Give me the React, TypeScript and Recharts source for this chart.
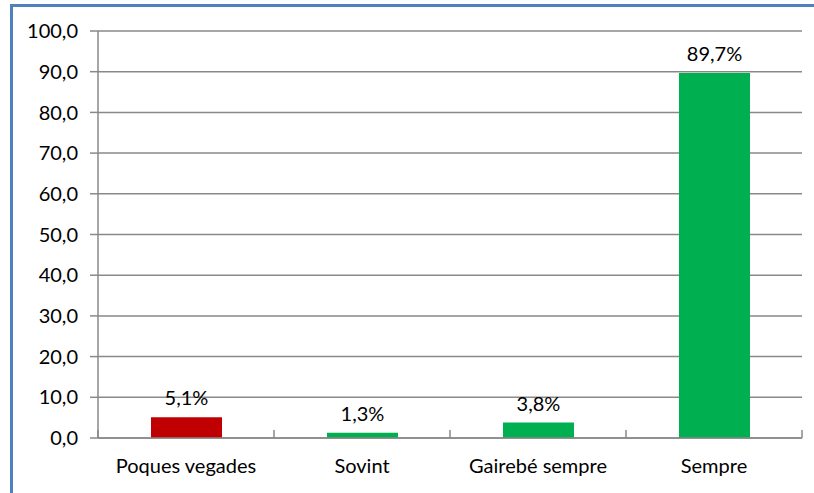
import { BarChart, Bar, XAxis, YAxis, CartesianGrid, LabelList, Cell } from "recharts";

const categories = ["Poques vegades", "Sovint", "Gairebé sempre", "Sempre"];
const values = [5.1, 1.3, 3.8, 89.7];
const barColors = ["#C00000", "#00B050", "#00B050", "#00B050"];
const yTicks = [0, 10, 20, 30, 40, 50, 60, 70, 80, 90, 100];

const data = categories.map((name, i) => ({ name, value: values[i] }));

const FONT = "Lato, 'Open Sans', sans-serif";
const AXIS = "#898989";
const PLOT_LEFT = 98;
const PLOT_RIGHT = 802;
const BAND = (PLOT_RIGHT - PLOT_LEFT) / categories.length;

const CategoryTick = (props: any) => {
    const { x, y, payload, index } = props;
    const left = x - BAND / 2;
    return (
        <g>
            <line x1={left} y1={y - 8} x2={left} y2={y} stroke={AXIS} strokeWidth={1.5} />
            {index === categories.length - 1 && (
                <line x1={x + BAND / 2} y1={y - 8} x2={x + BAND / 2} y2={y} stroke={AXIS} strokeWidth={1.5} />
            )}
            <text x={x} y={y + 35} textAnchor="middle" fontSize={20} fill="#000" fontFamily={FONT}>
                {payload.value}
            </text>
        </g>
    );
};

export default function App() {
    return (
        <div style={{ position: "absolute", left: 0, top: 0, width: 814, height: 493, background: "#fff", overflow: "hidden" }}>
            <div
                style={{
                    position: "absolute",
                    left: 10,
                    top: 4,
                    width: 820,
                    height: 500,
                    borderLeft: "3px solid #4F81BD",
                    borderTop: "3px solid #4F81BD",
                }}
            />
            <div style={{ position: "absolute", left: 0, top: 0 }}>
                <BarChart
                    width={814}
                    height={493}
                    data={data}
                    margin={{ top: 31, right: 12, bottom: 25, left: 0 }}
                    barCategoryGap="20%"
                >
                    <CartesianGrid vertical={false} stroke={AXIS} strokeWidth={1.5} />
                    <YAxis
                        width={98}
                        domain={[0, 100]}
                        ticks={yTicks}
                        interval={0}
                        tickFormatter={(v: number) => v.toFixed(1).replace(".", ",")}
                        axisLine={{ stroke: AXIS, strokeWidth: 1.5 }}
                        tickLine={{ stroke: AXIS, strokeWidth: 1.5 }}
                        tickSize={8}
                        tickMargin={12}
                        tick={{ fontSize: 20, fill: "#000", fontFamily: FONT }}
                    />
                    <XAxis
                        dataKey="name"
                        height={30}
                        interval={0}
                        axisLine={{ stroke: AXIS, strokeWidth: 1.5 }}
                        tickLine={false}
                        tick={<CategoryTick />}
                        tickSize={0}
                        tickMargin={0}
                    />
                    <Bar dataKey="value" barSize={71} isAnimationActive={false}>
                        {data.map((d, i) => (
                            <Cell key={d.name} fill={barColors[i]} />
                        ))}
                        <LabelList
                            dataKey="value"
                            position="top"
                            offset={12}
                            formatter={(v: any) => `${String(v).replace(".", ",")}%`}
                            style={{ fontSize: 20, fill: "#000", fontFamily: FONT }}
                        />
                    </Bar>
                </BarChart>
            </div>
        </div>
    );
}
